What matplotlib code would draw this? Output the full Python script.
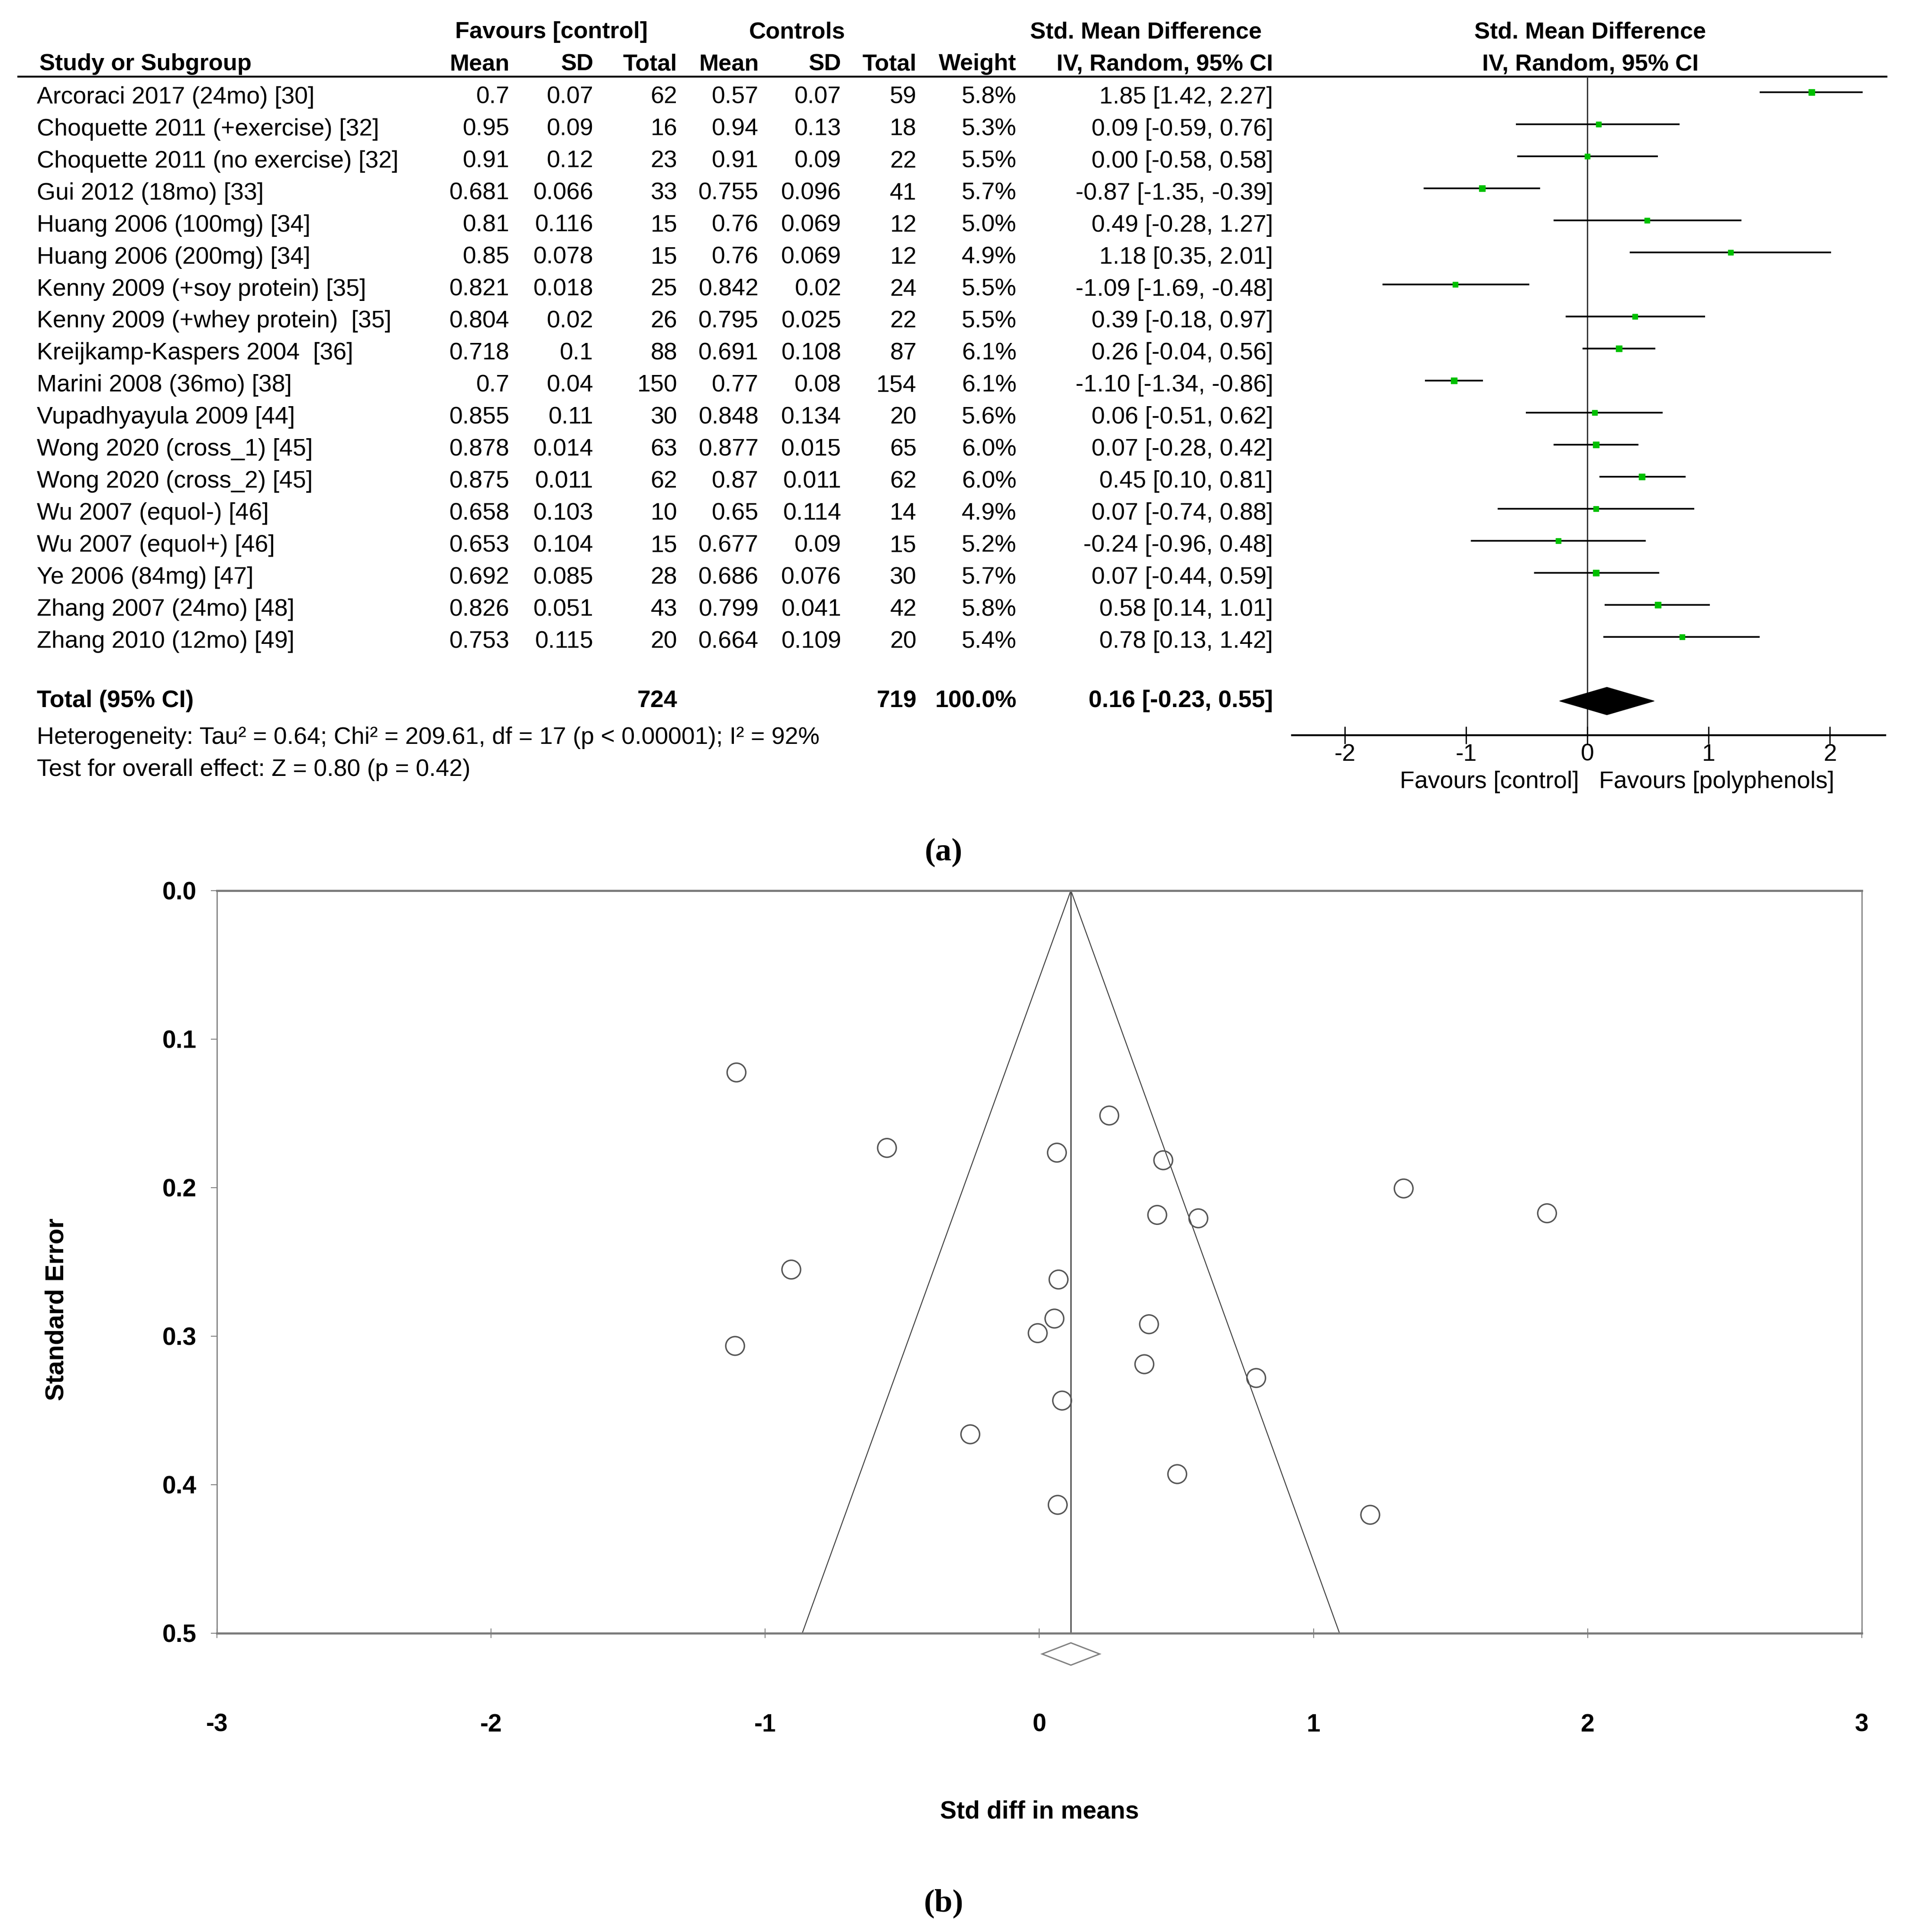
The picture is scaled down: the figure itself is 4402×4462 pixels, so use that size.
import matplotlib.pyplot as plt

plt.rcParams['axes.unicode_minus'] = False

# ---- data: forest plot (a) ----
studies = ["Arcoraci 2017 (24mo) [30]", "Choquette 2011 (+exercise) [32]",
           "Choquette 2011 (no exercise) [32]", "Gui 2012 (18mo) [33]",
           "Huang 2006 (100mg) [34]", "Huang 2006 (200mg) [34]",
           "Kenny 2009 (+soy protein) [35]", "Kenny 2009 (+whey protein)  [35]",
           "Kreijkamp-Kaspers 2004  [36]", "Marini 2008 (36mo) [38]",
           "Vupadhyayula 2009 [44]", "Wong 2020 (cross_1) [45]",
           "Wong 2020 (cross_2) [45]", "Wu 2007 (equol-) [46]",
           "Wu 2007 (equol+) [46]", "Ye 2006 (84mg) [47]",
           "Zhang 2007 (24mo) [48]", "Zhang 2010 (12mo) [49]"]
exp_mean = [0.7, 0.95, 0.91, 0.681, 0.81, 0.85, 0.821, 0.804, 0.718, 0.7,
            0.855, 0.878, 0.875, 0.658, 0.653, 0.692, 0.826, 0.753]
exp_sd = [0.07, 0.09, 0.12, 0.066, 0.116, 0.078, 0.018, 0.02, 0.1, 0.04,
          0.11, 0.014, 0.011, 0.103, 0.104, 0.085, 0.051, 0.115]
exp_n = [62, 16, 23, 33, 15, 15, 25, 26, 88, 150, 30, 63, 62, 10, 15, 28, 43, 20]
ctl_mean = [0.57, 0.94, 0.91, 0.755, 0.76, 0.76, 0.842, 0.795, 0.691, 0.77,
            0.848, 0.877, 0.87, 0.65, 0.677, 0.686, 0.799, 0.664]
ctl_sd = [0.07, 0.13, 0.09, 0.096, 0.069, 0.069, 0.02, 0.025, 0.108, 0.08,
          0.134, 0.015, 0.011, 0.114, 0.09, 0.076, 0.041, 0.109]
ctl_n = [59, 18, 22, 41, 12, 12, 24, 22, 87, 154, 20, 65, 62, 14, 15, 30, 42, 20]
weight = [5.8, 5.3, 5.5, 5.7, 5.0, 4.9, 5.5, 5.5, 6.1, 6.1, 5.6, 6.0, 6.0,
          4.9, 5.2, 5.7, 5.8, 5.4]
smd = [1.85, 0.09, 0.00, -0.87, 0.49, 1.18, -1.09, 0.39, 0.26, -1.10, 0.06,
       0.07, 0.45, 0.07, -0.24, 0.07, 0.58, 0.78]
ci_lo = [1.42, -0.59, -0.58, -1.35, -0.28, 0.35, -1.69, -0.18, -0.04, -1.34,
         -0.51, -0.28, 0.10, -0.74, -0.96, -0.44, 0.14, 0.13]
ci_hi = [2.27, 0.76, 0.58, -0.39, 1.27, 2.01, -0.48, 0.97, 0.56, -0.86, 0.62,
         0.42, 0.81, 0.88, 0.48, 0.59, 1.01, 1.42]

total_exp, total_ctl, total_w = 724, 719, 100.0
total_smd, total_lo, total_hi = 0.16, -0.23, 0.55
tau2, chi2, df, i2 = 0.64, 209.61, 17, 92
z_val, p_val = 0.80, 0.42
forest_ticks = [-2, -1, 0, 1, 2]

# ---- data: funnel plot (b) ----
funnel_smd = [-1.105, 0.255, -0.556, 0.064, 0.452, 1.329, 1.852, 0.430, 0.580,
              -0.905, 0.070, 0.055, 0.400, -0.006, -1.110, 0.383, 0.791, 0.083,
              -0.252, 0.503, 0.067, 1.207]
funnel_se = [0.1225, 0.1515, 0.1733, 0.1765, 0.1816, 0.2006, 0.2173, 0.2184,
             0.2207, 0.2552, 0.2619, 0.2882, 0.2920, 0.2980, 0.3066, 0.3189,
             0.3282, 0.3434, 0.3661, 0.3929, 0.4136, 0.4203]
pooled = 0.115
pooled_lo, pooled_hi = 0.01, 0.22
funnel_x = [-0.865, 0.115, 1.095]
funnel_y = [0.5, 0.0, 0.5]

W, H = 1545.0, 1566.0          # layout grid (scaled to the output size)
Y0, DY = 74.8, 25.97           # first row centre and row step
TXT_DY = 4.0                   # text sits a bit lower than the CI lines
FS = 40
SANS = ['Liberation Sans', 'DejaVu Sans']

fig = plt.figure(figsize=(44.02, 44.62), dpi=100)

tab = fig.add_axes([0, 0, 1, 1])
tab.set_xlim(0, W)
tab.set_ylim(H, 0)
tab.axis('off')


def txt(x, y, s, ha='left', bold=False, size=FS):
    tab.text(x, y, s, ha=ha, va='center', fontsize=size, family=SANS,
             fontweight='bold' if bold else 'normal', color='black')


# headers
HB = 39
txt(447, 26, "Favours [control]", ha='center', bold=True, size=HB)
txt(646, 26, "Controls", ha='center', bold=True, size=HB)
txt(929, 26, "Std. Mean Difference", ha='center', bold=True, size=HB)
txt(1289, 26, "Std. Mean Difference", ha='center', bold=True, size=HB)
txt(32, 52, "Study or Subgroup", bold=True, size=HB)
for x, s in [(413, "Mean"), (481, "SD"), (549, "Total"), (615, "Mean"),
             (682, "SD"), (743, "Total"), (824, "Weight"),
             (1032, "IV, Random, 95% CI")]:
    txt(x, 52, s, ha='right', bold=True, size=HB)
txt(1289, 52, "IV, Random, 95% CI", ha='center', bold=True, size=HB)
tab.plot([14, 1530], [62, 62], color='black', lw=3.2, solid_capstyle='butt')

cols = [413, 481, 549, 615, 682, 743, 824, 1032]
for i in range(len(studies)):
    y = Y0 + i * DY + TXT_DY
    txt(30, y, studies[i])
    vals = [str(exp_mean[i]), str(exp_sd[i]), str(exp_n[i]), str(ctl_mean[i]),
            str(ctl_sd[i]), str(ctl_n[i]), f"{weight[i]:.1f}%",
            f"{smd[i]:.2f} [{ci_lo[i]:.2f}, {ci_hi[i]:.2f}]"]
    for x, s in zip(cols, vals):
        txt(x, y, s, ha='right')

yt = Y0 + 19 * DY
txt(30, yt, "Total (95% CI)", bold=True)
txt(549, yt, str(total_exp), ha='right', bold=True)
txt(743, yt, str(total_ctl), ha='right', bold=True)
txt(824, yt, f"{total_w:.1f}%", ha='right', bold=True)
txt(1032, yt, f"{total_smd:.2f} [{total_lo:.2f}, {total_hi:.2f}]", ha='right', bold=True)
txt(30, 598, f"Heterogeneity: Tau\u00b2 = {tau2:.2f}; Chi\u00b2 = {chi2:.2f}, df = {df} "
             f"(p < 0.00001); I\u00b2 = {i2}%")
txt(30, 624, f"Test for overall effect: Z = {z_val:.2f} (p = {p_val:.2f})")
txt(1280, 634, "Favours [control]", ha='right')
txt(1296, 634, "Favours [polyphenols]")

# panel labels
tab.text(765, 691, "(a)", ha='center', va='center', fontsize=54,
         family=['Liberation Serif', 'DejaVu Serif'], fontweight='bold')
tab.text(765, 1543, "(b)", ha='center', va='center', fontsize=54,
         family=['Liberation Serif', 'DejaVu Serif'], fontweight='bold')

# ---- forest axes ----
fx0, fx1, fy0, fy1 = 1047.4, 1528.0, 62.0, 596.0
fa = fig.add_axes([fx0 / W, 1 - fy1 / H, (fx1 - fx0) / W, (fy1 - fy0) / H])
fa.set_facecolor('none')
fa.set_xlim((fx0 - 1286.8) / 98.3, (fx1 - 1286.8) / 98.3)
fa.set_ylim((fy1 - Y0) / DY, (fy0 - Y0) / DY)
for s in ['top', 'left', 'right']:
    fa.spines[s].set_visible(False)
fa.spines['bottom'].set_linewidth(3.2)
fa.axvline(0, color='#333333', lw=2.2, zorder=1)
rows = list(range(len(studies)))
fa.hlines(rows, ci_lo, ci_hi, color='black', lw=2.8, zorder=2)
for i in rows:
    fa.plot(smd[i], i, marker='s', ms=9.6 * weight[i] / 5.8, color='#00c000',
            mec='#00c000', zorder=3)
fa.fill([total_lo, total_smd, total_hi, total_smd],
        [19, 19 - 0.43, 19, 19 + 0.43], color='black', zorder=3)
fa.set_xticks(forest_ticks)
fa.set_xticklabels([str(t) for t in forest_ticks], family=SANS)
fa.set_yticks([])
fa.tick_params(axis='x', direction='inout', length=29, width=2.2,
               labelsize=FS, pad=-1)

# ---- funnel axes ----
bx0, bx1, by0, by1 = 175.9, 1509.1, 721.8, 1323.8
fb = fig.add_axes([bx0 / W, 1 - by1 / H, (bx1 - bx0) / W, (by1 - by0) / H])
fb.set_xlim(-3, 3)
fb.set_ylim(0.5, 0)
for s in ['top', 'bottom']:
    fb.spines[s].set_linewidth(3.5)
    fb.spines[s].set_color('#7a7a7a')
for s in ['left', 'right']:
    fb.spines[s].set_linewidth(2.0)
    fb.spines[s].set_color('#808080')
fb.plot(funnel_x, funnel_y, color='#404040', lw=1.6, zorder=2)
fb.plot([pooled, pooled], [0, 0.5], color='#555555', lw=2.4, zorder=2)
fb.scatter(funnel_smd, funnel_se, s=31 ** 2, facecolors='none',
           edgecolors='#555555', linewidths=2.4, zorder=3)
dy = 0.0075
fb.fill([pooled_lo, pooled, pooled_hi, pooled],
        [0.514, 0.514 - dy, 0.514, 0.514 + dy], facecolor='white',
        edgecolor='#808080', lw=2.2, clip_on=False, zorder=3)
fb.set_xticks([-3, -2, -1, 0, 1, 2, 3])
fb.set_yticks([0.0, 0.1, 0.2, 0.3, 0.4, 0.5])
fb.set_yticklabels([f"{v:.1f}" for v in [0.0, 0.1, 0.2, 0.3, 0.4, 0.5]])
fb.tick_params(axis='x', direction='inout', length=16, width=1.5,
               color='#808080', labelsize=41, pad=125)
fb.tick_params(axis='y', direction='out', length=10, width=1.5,
               color='#808080', labelsize=41, pad=24)
for lab in fb.get_xticklabels() + fb.get_yticklabels():
    lab.set_fontweight('bold')
    lab.set_family(SANS)
fb.text(0.5, -0.2405, "Std diff in means", transform=fb.transAxes,
        ha='center', va='center', fontsize=41, fontweight='bold', family=SANS)
fb.text(-0.0974, 0.436, "Standard Error", transform=fb.transAxes, rotation=90,
        ha='center', va='center', fontsize=43, fontweight='bold', family=SANS)

fig.savefig("out.png", dpi=100)
